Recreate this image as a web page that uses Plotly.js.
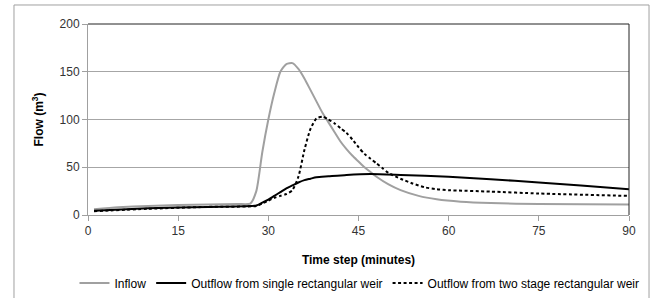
<!DOCTYPE html>
<html>
<head>
<meta charset="utf-8">
<script src="https://cdn.plot.ly/plotly-3.0.1.min.js"></script>
<style>
html,body{margin:0;padding:0;background:#fff;}
#chart{width:655px;height:298px;}
</style>
</head>
<body>
<div id="chart"></div>
<script>
// Data
const inflowT = [1, 5, 10, 15, 20, 25, 27, 28, 29, 30, 31, 32, 33, 34, 35, 36, 37, 38, 39, 40, 41, 42, 43, 44, 45, 46, 47, 48, 50, 52, 55, 58, 62, 67, 75, 90];
const inflowV = [6, 8, 9.5, 10.5, 11, 11.5, 12, 25, 66, 100, 128, 150, 158, 159, 153, 143, 131, 119, 107, 97, 87, 77, 69, 62, 56, 50, 45, 40, 32, 26, 20, 16.5, 14, 12.5, 11.5, 11];

const singleT = [1, 10, 20, 28, 29, 30, 31, 32, 33, 34, 35, 36, 37, 38, 40, 43, 47, 52, 60, 67, 75, 82, 90];
const singleV = [4.5, 7, 8.5, 10, 13, 16, 20, 24, 28, 31, 34, 36.5, 38, 39.5, 40.5, 42, 43, 42, 40, 37.5, 34, 31, 27];

const twoStageT = [1, 10, 20, 28, 29, 30, 31, 32, 33, 34, 35, 36, 37, 38, 39, 40, 41, 42, 43, 44, 45, 46, 47, 48, 49, 50, 52, 54, 56, 58, 60, 67, 75, 90];
const twoStageV = [4, 6.5, 8.5, 9.5, 12, 15, 18, 20, 22, 26, 40, 68, 90, 101, 103, 100, 96, 91, 86, 79, 71, 64, 59, 54, 49, 44, 38, 33, 29, 27, 26, 24.5, 22.5, 20];

const xTicks = [0, 15, 30, 45, 60, 75, 90];
const yTicks = [0, 50, 100, 150, 200];
const seriesNames = ["Inflow", "Outflow from single rectangular weir", "Outflow from two stage rectangular weir"];

const font = "Liberation Sans, Arial, sans-serif";

const traces = [
  {x: inflowT, y: inflowV, name: seriesNames[0], mode: "lines", type: "scatter",
   line: {color: "#a0a0a0", width: 2, shape: "spline", smoothing: 0.6}},
  {x: singleT, y: singleV, name: seriesNames[1], mode: "lines", type: "scatter",
   line: {color: "#000000", width: 2, shape: "spline", smoothing: 0.6}},
  {x: twoStageT, y: twoStageV, name: seriesNames[2], mode: "lines", type: "scatter",
   line: {color: "#000000", width: 2, dash: "3px,2.5px", shape: "spline", smoothing: 0.6}}
];

const layout = {
  width: 655, height: 298,
  margin: {l: 88, r: 26, t: 24, b: 83, pad: 0, autoexpand: false},
  paper_bgcolor: "#ffffff", plot_bgcolor: "#ffffff",
  font: {family: font, size: 12, color: "#333333"},
  showlegend: true,
  legend: {orientation: "h", x: -0.025, xanchor: "left", y: -0.356, yanchor: "middle",
           font: {family: font, size: 12, color: "#000000"}, itemwidth: 30, tracegroupgap: 0,
           bgcolor: "rgba(0,0,0,0)"},
  xaxis: {range: [0, 90], tickvals: xTicks, ticktext: xTicks.map(String),
          showgrid: false, zeroline: false, showline: true, linecolor: "#a0a0a0", linewidth: 1,
          ticks: "outside", ticklen: 5, tickcolor: "#a0a0a0",
          tickfont: {family: font, size: 12, color: "#333333"},
          title: {text: "<b>Time step (minutes)</b>", font: {family: font, size: 12, color: "#000000"}, standoff: 18},
          automargin: false, fixedrange: true},
  yaxis: {range: [0, 200], tickvals: yTicks, ticktext: yTicks.map(String),
          showgrid: true, gridcolor: "#a6a6a6", gridwidth: 1, zeroline: false,
          showline: true, linecolor: "#a0a0a0", linewidth: 1,
          ticks: "outside", ticklen: 5, tickcolor: "#a0a0a0",
          tickfont: {family: font, size: 12, color: "#333333"},
          title: {text: "<b>Flow (m<sup>3</sup>)</b>", font: {family: font, size: 12, color: "#000000"}, standoff: 13},
          automargin: false, fixedrange: true},
  shapes: [
    {type: "line", xref: "paper", yref: "paper", x0: 0, x1: 1, y0: 1, y1: 1, line: {color: "#222222", width: 1}},
    {type: "line", xref: "paper", yref: "paper", x0: 1, x1: 1, y0: 0, y1: 1, line: {color: "#222222", width: 1}},
    {type: "rect", xref: "paper", yref: "paper", x0: -0.1368, x1: 1.037, y0: -0.46, y1: 1.0995,
     line: {color: "#a0a0a0", width: 1}, fillcolor: "rgba(0,0,0,0)", layer: "below"}
  ]
};

Plotly.newPlot("chart", traces, layout, {displayModeBar: false, staticPlot: true});
</script>
</body>
</html>
